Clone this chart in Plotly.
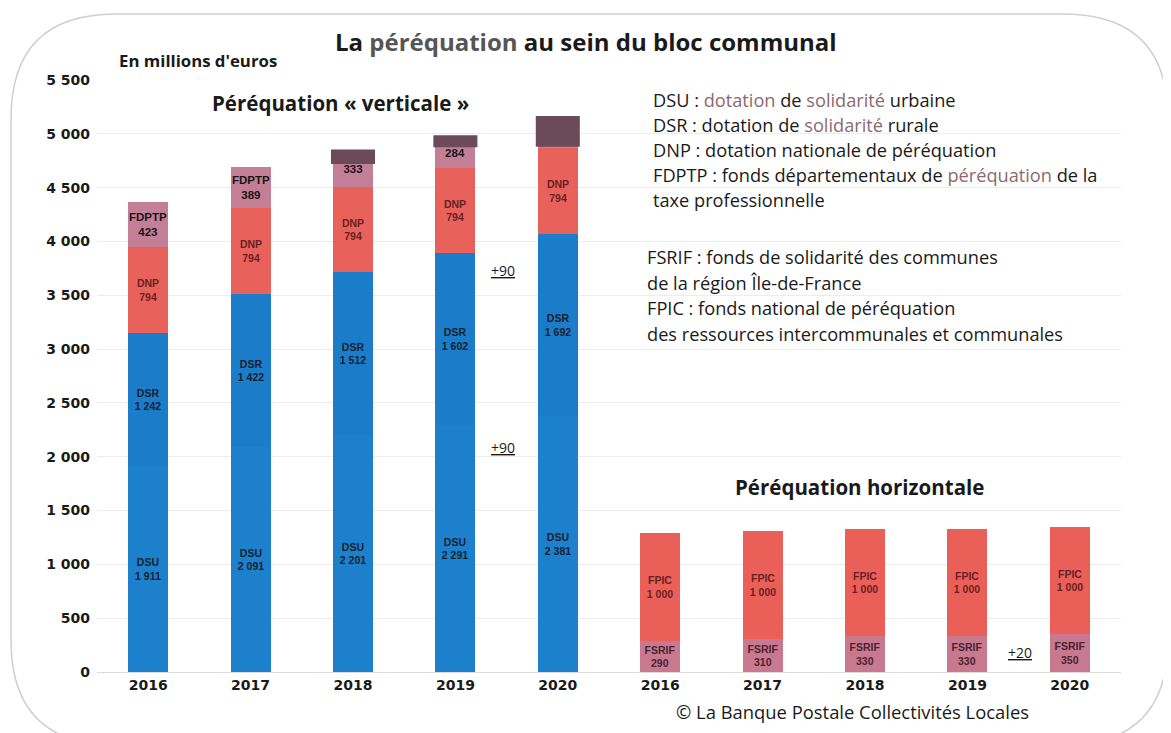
import plotly.graph_objects as go

# ---------------- data ----------------
years = ["2016", "2017", "2018", "2019", "2020"]
dsu = [1911, 2091, 2201, 2291, 2381]
dsr = [1242, 1422, 1512, 1602, 1692]
dnp = [794, 794, 794, 794, 794]
fdptp = [423, 389, 333, 284, 284]
fsrif = [290, 310, 330, 330, 350]
fpic = [1000, 1000, 1000, 1000, 1000]
y_ticks = [0, 500, 1000, 1500, 2000, 2500, 3000, 3500, 4000, 4500, 5000, 5500]

# ---------------- geometry helpers (screen pixel -> paper) ----------------
OFF = 8                      # page body margin
W, H = 1171, 733             # window size
PL, PR, PT, PB = 97, 1121, 80, 672   # plot area on screen
PW, PH = PR - PL, PB - PT


def px(x):
    return (x - PL) / PW


def py(y):
    return (PB - y) / PH


def fmt(v):
    return f"{v:,}".replace(",", " ")


vx = list(range(5))
hx = list(range(5, 10))
BW = 0.39

C_DSU = "#1c80cc"
C_DSR = "#1b7dc9"
C_DNP = "#e8625b"
C_FDPTP = "#c27f95"
C_FPIC = "#ea5f58"
C_FSRIF = "#c8798f"

fig = go.Figure()


def add(x, vals, name, color, texts, tcolor="#2b2230", size=10.5):
    fig.add_trace(go.Bar(
        x=x, y=vals, name=name, width=BW, marker=dict(color=color, line=dict(width=0)),
        text=texts, textposition="inside", insidetextanchor="middle",
        constraintext="none", textangle=0,
        textfont=dict(family="Liberation Sans", size=size, color=tcolor),
        hoverinfo="name+y", showlegend=False,
    ))


add(vx, dsu, "DSU", C_DSU, [f"<b>DSU<br>{fmt(v)}</b>" for v in dsu], "#17202e")
add(vx, dsr, "DSR", C_DSR, [f"<b>DSR<br>{fmt(v)}</b>" for v in dsr], "#17202e")
add(vx, dnp, "DNP", C_DNP, [f"<b>DNP<br>{fmt(v)}</b>" for v in dnp], "#6a1f24")
fd_text = [f"<b>FDPTP<br>{fmt(v)}</b>" for v in fdptp]
fd_text[2] = f"<b>{fmt(fdptp[2])}</b>"
fd_text[3] = f"<b>{fmt(fdptp[3])}</b>"
fd_text[4] = ""
add(vx, fdptp, "FDPTP", C_FDPTP, fd_text, "#1a1418", size=11.5)
add(hx, fsrif, "FSRIF", C_FSRIF, [f"<b>FSRIF<br>{fmt(v)}</b>" for v in fsrif], "#4a2430")
add(hx, fpic, "FPIC", C_FPIC, [f"<b>FPIC<br>{fmt(v)}</b>" for v in fpic], "#6a1f24")

# dark smudges covering the FDPTP label at the top of the 2018-2020 bars
tops = [a + b + c + d for a, b, c, d in zip(dsu, dsr, dnp, fdptp)]
smudge_depth = {2: 120, 3: 95, 4: 270}
for i, depth in smudge_depth.items():
    fig.add_shape(type="rect", xref="x", yref="y",
                  x0=vx[i] - BW / 2 - 0.02, x1=vx[i] + BW / 2 + 0.02,
                  y0=tops[i] - depth, y1=tops[i] + 15,
                  fillcolor="#6b4a5a", line=dict(width=0), layer="above")

ann_font = "Open Sans"


def text_ann(x, y, t, size, anchor="center", color="#1a1a1a"):
    fig.add_annotation(x=px(x), y=py(y), xref="paper", yref="paper", showarrow=False,
                       xanchor=anchor, yanchor="middle", text=t,
                       font=dict(family=ann_font, size=size, color=color))


# titles
text_ann(586, 42, "<b>La <span style='color:#555'>péréquation</span> au sein du bloc communal</b>", 24)
text_ann(117, 60, "<b>En millions d'euros</b>", 16.8, anchor="left")
text_ann(340, 103, "<b>Péréquation « verticale »</b>", 20.5)
text_ann(859, 487, "<b>Péréquation horizontale</b>", 20.5)
text_ann(852, 711, "© La Banque Postale Collectivités Locales", 18.4)

# glossary
gloss1 = [
    "DSU : <span style='color:#8a6a70'>dotation</span> de <span style='color:#8a6a70'>solidarité</span> urbaine",
    "DSR : dotation de <span style='color:#8a6a70'>solidarité</span> rurale",
    "DNP : dotation nationale de péréquation",
    "FDPTP : fonds départementaux de <span style='color:#8a6a70'>péréquation</span> de la",
    "taxe professionnelle",
]
for k, t in enumerate(gloss1):
    text_ann(651, 100 + 25 * k, t, 18.2, anchor="left")
gloss2 = [
    "FSRIF : fonds de solidarité des communes",
    "de la région Île-de-France",
    "FPIC : fonds national de péréquation",
    "des ressources intercommunales et communales",
]
for k, t in enumerate(gloss2):
    text_ann(645, 257 + 25.7 * k, t, 18.2, anchor="left")

# increments
for (xx, yy, t) in [(503, 270, "+90"), (503, 447, "+90"), (1020, 652, "+20")]:
    text_ann(xx, yy, f"<u>{t}</u>", 14)

# rounded frame
Lf, Rf, Tf, Bf, r = 11, 1168, 14, 745, 105
pth = (f"M {px(Lf + r)} {py(Tf)} L {px(Rf - r)} {py(Tf)} Q {px(Rf)} {py(Tf)} {px(Rf)} {py(Tf + r)} "
       f"L {px(Rf)} {py(Bf - r)} Q {px(Rf)} {py(Bf)} {px(Rf - r)} {py(Bf)} "
       f"L {px(Lf + r)} {py(Bf)} Q {px(Lf)} {py(Bf)} {px(Lf)} {py(Bf - r)} "
       f"L {px(Lf)} {py(Tf + r)} Q {px(Lf)} {py(Tf)} {px(Lf + r)} {py(Tf)} Z")
fig.add_shape(type="path", path=pth, xref="paper", yref="paper",
              line=dict(color="#cfcfcf", width=1.5), layer="below")

fig.update_layout(
    barmode="stack",
    width=W - OFF, height=H - OFF,
    margin=dict(l=PL - OFF, r=W - PR, t=PT - OFF, b=H - PB),
    paper_bgcolor="white", plot_bgcolor="white",
    bargap=0,
    xaxis=dict(range=[-0.5, 9.5], tickvals=vx + hx, ticktext=[f"<b>{y}</b>" for y in years + years],
               tickfont=dict(family="DejaVu Sans", size=14, color="#1a1a1a"),
               showgrid=False, zeroline=False, showline=True, linecolor="#dcdcdc", ticks=""),
    yaxis=dict(range=[0, 5500], tickvals=y_ticks, ticktext=[f"<b>{fmt(v)}</b>" for v in y_ticks],
               tickfont=dict(family="DejaVu Sans", size=14, color="#1a1a1a"),
               showgrid=True, gridcolor="#ececec", gridwidth=1, zeroline=False, ticks="",
               ticklabelstandoff=6),
    font=dict(family=ann_font),
)

fig.write_html("out.html")
